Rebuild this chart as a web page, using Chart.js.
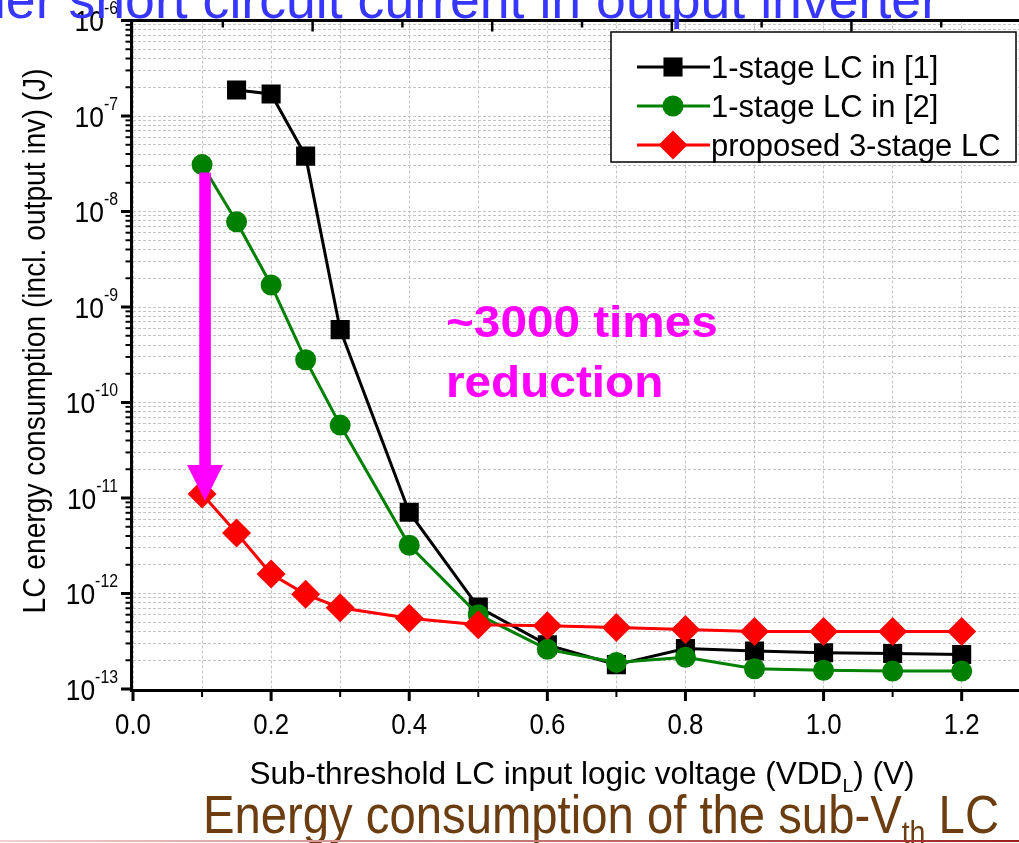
<!DOCTYPE html>
<html>
<head>
<meta charset="utf-8">
<script src="https://cdn.jsdelivr.net/npm/chart.js@4.4.0/dist/chart.umd.min.js"></script>
<style>
  html, body { margin: 0; padding: 0; background: #fff; }
  #wrap { width: 1019px; height: 843px; }
</style>
</head>
<body>
<div id="wrap"><canvas id="chart" width="1019" height="843"></canvas></div>
<script>
// values (J), x = VDD_L (V)
const voltages = [0.1, 0.15, 0.2, 0.25, 0.3, 0.4, 0.5, 0.6, 0.7, 0.8, 0.9, 1.0, 1.1, 1.2];
const lcRef1 = [null, 1.87e-7, 1.7e-7, 3.8e-8, 5.8e-10, 7.1e-12, 7.2e-13, 2.9e-13, 1.8e-13, 2.65e-13, 2.5e-13, 2.4e-13, 2.35e-13, 2.3e-13];
const lcRef2 = [3.1e-8, 7.8e-9, 1.7e-9, 2.8e-10, 5.8e-11, 3.2e-12, 6.0e-13, 2.6e-13, 1.9e-13, 2.15e-13, 1.63e-13, 1.57e-13, 1.54e-13, 1.54e-13];
const lcProposed = [1.1e-11, 4.3e-12, 1.6e-12, 9.8e-13, 7.1e-13, 5.5e-13, 4.7e-13, 4.6e-13, 4.4e-13, 4.2e-13, 4.0e-13, 4.0e-13, 4.0e-13, 4.0e-13];

const seriesNames = ['1-stage LC in [1]', '1-stage LC in [2]', 'proposed 3-stage LC'];
const xTicks = [0, 0.1, 0.2, 0.3, 0.4, 0.5, 0.6, 0.7, 0.8, 0.9, 1.0, 1.1, 1.2];
const xLabels = ['0.0', '0.2', '0.4', '0.6', '0.8', '1.0', '1.2'];
const yExponents = [-13, -12, -11, -10, -9, -8, -7, -6];
const topTicks = [0, 1, 2, 3, 4, 5, 6, 7, 8, 9];

const FONT = "'Liberation Sans', Arial, sans-serif";

function points(values) {
    return voltages.map((v, i) => ({ x: v, y: values[i] })).filter(p => p.y !== null);
}

function setFont(ctx, p) {
    ctx.font = (p.bold ? 'bold ' : '') + p.size + 'px ' + FONT;
}

function richWidth(ctx, parts) {
    let w = 0;
    parts.forEach(p => { setFont(ctx, p); w += ctx.measureText(p.t).width; });
    return w;
}

// draws a run of text pieces (sub/superscripts), squeezed horizontally by sx
function drawRich(ctx, parts, x, y, align, sx, color) {
    const w = richWidth(ctx, parts) * sx;
    let cx = align === 'center' ? x - w / 2 : (align === 'right' ? x - w : x);
    ctx.save();
    ctx.fillStyle = color;
    ctx.textAlign = 'left';
    ctx.textBaseline = 'alphabetic';
    parts.forEach(p => {
        setFont(ctx, p);
        ctx.save();
        ctx.translate(cx, y + (p.dy || 0));
        ctx.scale(sx, 1);
        ctx.fillText(p.t, 0, 0);
        ctx.restore();
        cx += ctx.measureText(p.t).width * sx;
    });
    ctx.restore();
}

function fitScale(ctx, parts, width) {
    return width / richWidth(ctx, parts);
}

function drawMarker(ctx, style, x, y, r, color) {
    ctx.save();
    ctx.fillStyle = color;
    ctx.beginPath();
    if (style === 'rect') {
        const s = r * Math.SQRT1_2;
        ctx.rect(x - s, y - s, 2 * s, 2 * s);
    } else if (style === 'rectRot') {
        ctx.moveTo(x, y - r); ctx.lineTo(x + r, y); ctx.lineTo(x, y + r); ctx.lineTo(x - r, y);
        ctx.closePath();
    } else {
        ctx.arc(x, y, r, 0, Math.PI * 2);
    }
    ctx.fill();
    ctx.restore();
}

const decorPlugin = {
    id: 'decor',
    afterDatasetsDraw(chart) {
        const ctx = chart.ctx;
        const xs = chart.scales.x, ys = chart.scales.y;
        // arrow from [2] to proposed at the lowest voltage
        const ax = xs.getPixelForValue(voltages[0]) + 3;
        const yTop = ys.getPixelForValue(lcRef2[0]) + 8;
        const yTip = ys.getPixelForValue(lcProposed[0]) + 7;
        ctx.save();
        ctx.fillStyle = '#ff00ff';
        ctx.fillRect(ax - 5.8, yTop, 11.6, yTip - 36 - yTop + 1);
        ctx.beginPath();
        ctx.moveTo(ax - 18, yTip - 36);
        ctx.lineTo(ax + 18, yTip - 36);
        ctx.lineTo(ax, yTip);
        ctx.closePath();
        ctx.fill();
        ctx.restore();
        drawRich(ctx, [{ t: '~3000 times', size: 45, bold: true }], 446, 337, 'left', 1.06, '#ff00ff');
        drawRich(ctx, [{ t: 'reduction', size: 45, bold: true }], 446, 397, 'left', 1.06, '#ff00ff');
    },
    afterDraw(chart) {
        const ctx = chart.ctx;
        const area = chart.chartArea;
        const xs = chart.scales.x, ys = chart.scales.y, xt = chart.scales.xTop;
        ctx.save();
        ctx.strokeStyle = '#000';
        ctx.lineCap = 'butt';
        // axis lines
        ctx.lineWidth = 3;
        ctx.beginPath();
        ctx.moveTo(area.left, area.bottom + 1.5);
        ctx.lineTo(area.right, area.bottom + 1.5);
        ctx.moveTo(area.left - 1.5, area.top);
        ctx.lineTo(area.left - 1.5, area.bottom + 3);
        ctx.moveTo(area.left - 3, area.top);
        ctx.lineTo(area.right, area.top);
        ctx.stroke();
        // left ticks, outward
        ys.ticks.forEach(t => {
            const py = ys.getPixelForValue(t.value);
            const m = t.value / Math.pow(10, Math.floor(Math.log10(t.value) + 1e-9));
            const major = Math.abs(m - 1) < 1e-6;
            ctx.lineWidth = major ? 3 : 2;
            ctx.beginPath();
            ctx.moveTo(area.left - 1.5, py);
            ctx.lineTo(area.left - (major ? 12 : 7.5), py);
            ctx.stroke();
        });
        // bottom ticks, outward
        xTicks.forEach(v => {
            const px = xs.getPixelForValue(v);
            const major = Math.round(v * 10) % 2 === 0;
            ctx.lineWidth = major ? 3 : 2;
            ctx.beginPath();
            ctx.moveTo(px, area.bottom);
            ctx.lineTo(px, area.bottom + (major ? 12 : 8));
            ctx.stroke();
        });
        // top ticks, inward
        topTicks.forEach(v => {
            if (v === 0) return;
            const px = xt.getPixelForValue(v);
            const major = v % 2 === 0;
            ctx.lineWidth = 2.5;
            ctx.beginPath();
            ctx.moveTo(px, area.top);
            ctx.lineTo(px, area.top + (major ? 11 : 7));
            ctx.stroke();
        });
        ctx.restore();

        // tick labels
        yExponents.forEach(e => {
            const py = ys.getPixelForValue(Math.pow(10, e));
            drawRich(ctx, [{ t: '10', size: 30 }, { t: String(e), size: 18, dy: -17 }], 118, py + 10.5, 'right', 0.88, '#000');
        });
        xLabels.forEach(l => {
            const px = xs.getPixelForValue(parseFloat(l));
            drawRich(ctx, [{ t: l, size: 30 }], px, 734, 'center', 0.86, '#000');
        });

        // axis titles
        const xTitle = [{ t: 'Sub-threshold LC input logic voltage (VDD', size: 31 }, { t: 'L', size: 19, dy: 8 }, { t: ') (V)', size: 31 }];
        drawRich(ctx, xTitle, 582, 784, 'center', fitScale(ctx, xTitle, 665), '#000');
        const yTitle = [{ t: 'LC energy consumption (incl. output inv) (J)', size: 32 }];
        ctx.save();
        ctx.translate(45, 341);
        ctx.rotate(-Math.PI / 2);
        drawRich(ctx, yTitle, 0, 0, 'center', fitScale(ctx, yTitle, 545), '#000');
        ctx.restore();

        // legend
        const ds = chart.data.datasets;
        ctx.save();
        ctx.fillStyle = '#fff';
        ctx.fillRect(611, 32, 405, 130);
        ctx.strokeStyle = '#000';
        ctx.lineWidth = 1.5;
        ctx.strokeRect(611, 32, 405, 130);
        ctx.restore();
        const rowsY = [67, 106, 145];
        ds.forEach((d, i) => {
            const ly = rowsY[i];
            ctx.save();
            ctx.strokeStyle = d.borderColor;
            ctx.lineWidth = d.borderWidth;
            ctx.beginPath();
            ctx.moveTo(637, ly);
            ctx.lineTo(710, ly);
            ctx.stroke();
            ctx.restore();
            drawMarker(ctx, d.pointStyle, 673, ly, d.pointRadius, d.backgroundColor);
            drawRich(ctx, [{ t: d.label, size: 31 }], 711, ly + 11, 'left', 1, '#000');
        });

        // slide text around the chart
        const head = [{ t: 'ller short circuit current in output inverter', size: 53 }];
        drawRich(ctx, head, -18, 18, 'left', fitScale(ctx, head, 957), '#3636ff');
        const caption = [{ t: 'Energy consumption of the sub-V', size: 53 }, { t: 'th', size: 32, dy: 10 }, { t: ' LC', size: 53 }];
        drawRich(ctx, caption, 601, 833, 'center', fitScale(ctx, caption, 796), '#6b3d10');

        const g = ctx.createLinearGradient(0, 0, 1019, 0);
        g.addColorStop(0, '#f3d0d0');
        g.addColorStop(1, '#9c1f1f');
        ctx.save();
        ctx.strokeStyle = g;
        ctx.lineWidth = 2;
        ctx.beginPath();
        ctx.moveTo(0, 841);
        ctx.lineTo(1019, 841);
        ctx.stroke();
        ctx.restore();
    }
};

const gridDash = { display: false, dash: [3, 2] };

new Chart(document.getElementById('chart'), {
    type: 'line',
    data: {
        datasets: [
            {
                label: seriesNames[0], data: points(lcRef1), order: 3,
                borderColor: '#000000', backgroundColor: '#000000', borderWidth: 3,
                pointStyle: 'rect', pointRadius: 13.5, pointBorderWidth: 0, tension: 0
            },
            {
                label: seriesNames[1], data: points(lcRef2), order: 2,
                borderColor: '#008000', backgroundColor: '#008000', borderWidth: 3,
                pointStyle: 'circle', pointRadius: 10.5, pointBorderWidth: 0, tension: 0
            },
            {
                label: seriesNames[2], data: points(lcProposed), order: 1,
                borderColor: '#ff0000', backgroundColor: '#ff0000', borderWidth: 3,
                pointStyle: 'rectRot', pointRadius: 14.5, pointBorderWidth: 0, tension: 0
            }
        ]
    },
    options: {
        responsive: false,
        animation: false,
        events: [],
        layout: { padding: 0, autoPadding: false },
        plugins: { legend: { display: false }, tooltip: { enabled: false } },
        scales: {
            x: {
                type: 'linear', position: 'bottom', min: 0, max: 1.283,
                afterBuildTicks: s => { s.ticks = xTicks.map(v => ({ value: v })); },
                ticks: { display: false },
                grid: { color: '#c4c4c4', lineWidth: 1, drawTicks: false },
                border: gridDash,
                afterFit: s => { s.height = 154; }
            },
            xTop: {
                type: 'linear', position: 'top', min: 0, max: 9.866,
                afterBuildTicks: s => { s.ticks = topTicks.map(v => ({ value: v })); },
                ticks: { display: false },
                grid: { display: false, drawTicks: false },
                border: { display: false },
                afterFit: s => { s.height = 20.5; }
            },
            y: {
                type: 'logarithmic', position: 'left', min: 1e-13, max: 1e-6,
                afterBuildTicks: s => {
                    const t = [];
                    yExponents.forEach(e => {
                        for (let m = 1; m <= 9; m++) {
                            if (e === -6 && m > 1) break;
                            t.push({ value: m * Math.pow(10, e) });
                        }
                    });
                    s.ticks = t;
                },
                ticks: { display: false },
                grid: { color: '#c4c4c4', lineWidth: 1, drawTicks: false },
                border: gridDash,
                afterFit: s => { s.width = 133; }
            }
        }
    },
    plugins: [decorPlugin]
});
</script>
</body>
</html>
